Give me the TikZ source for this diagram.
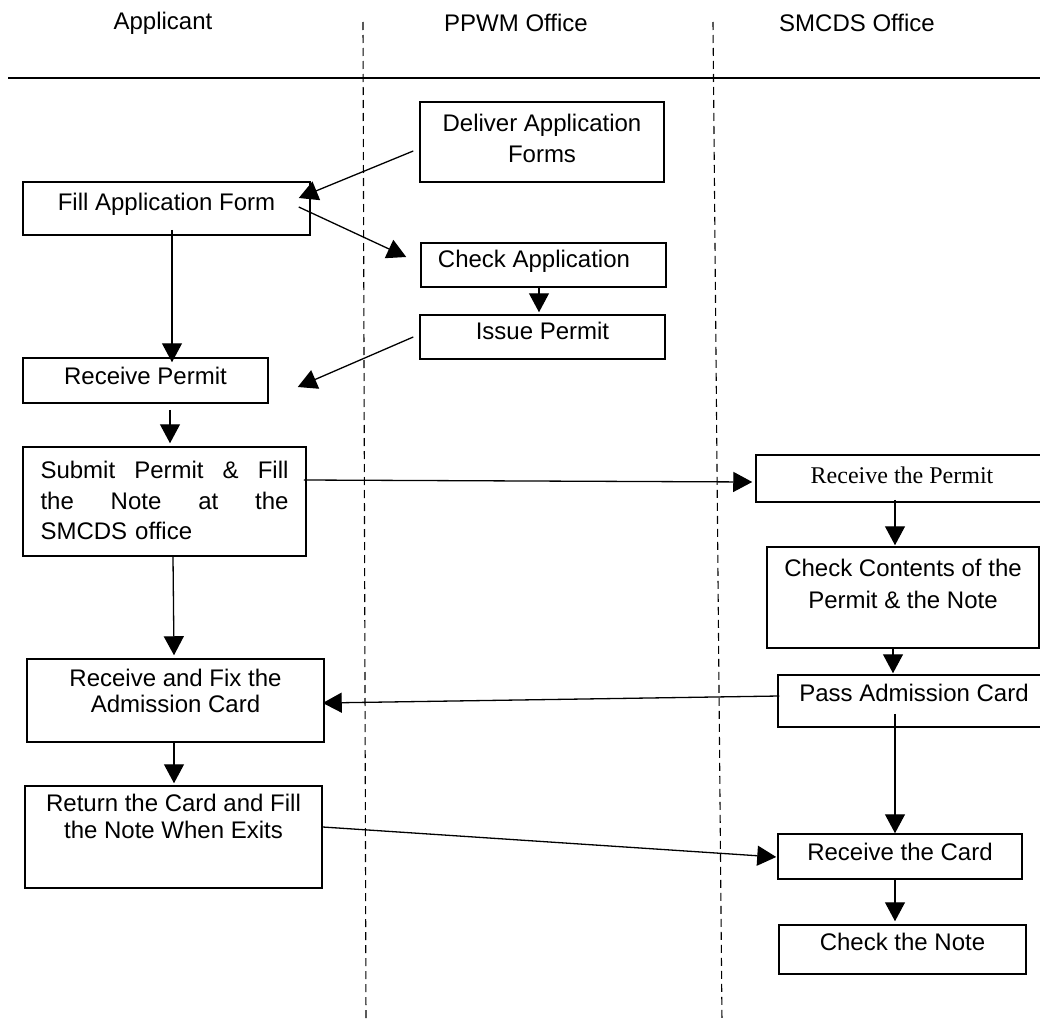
\documentclass[tikz,border=0pt]{standalone}
\usepackage{fontspec}
\setmainfont{Liberation Sans}
\newfontfamily\serifbox{Liberation Serif}
\usetikzlibrary{arrows.meta}

\begin{document}
\begin{tikzpicture}[x=0.5pt,y=-0.5pt,>={Triangle[length=9.5pt,width=10pt]},
  box/.style={draw,line width=0.75pt,inner sep=0pt,align=center,
    font=\fontsize{12}{15.5}\selectfont},
  flow/.style={->,line width=0.65pt},
  lane/.style={line width=0.55pt,dash pattern=on 4pt off 2.5pt}]
  \useasboundingbox (0,0) rectangle (1040,1028);
  \clip (0,0) rectangle (1040,1028);
  % lane heads
  \node[font=\fontsize{12}{14}\selectfont] (applicant) at (163,23) {Applicant};
  \node[font=\fontsize{12}{14}\selectfont] (ppwm) at (516,23) {PPWM Office};
  \node[font=\fontsize{12}{14}\selectfont] (smcds) at (857,23) {SMCDS Office};
  \draw[line width=0.6pt] (8,78) -- (1040,78);
  \draw[lane] (363,22) -- (366,1022);
  \draw[lane] (713,22) -- (722,1022);

  % PPWM office
  \node[box,minimum width=122pt,minimum height=40pt,text depth=3.25pt] (deliver) at (542,142) {Deliver Application\\Forms};
  \node[box,minimum width=122.5pt,minimum height=22pt,text height=9pt,text depth=6.4pt] (checkapp) at (543.5,265) {Check Application\hspace*{9.5pt}};
  \node[box,minimum width=122.5pt,minimum height=22pt,text height=9pt,text depth=6.4pt] (issue) at (542.5,337) {Issue Permit};

  % applicant
  \node[box,minimum width=143.5pt,minimum height=26.5pt,text height=9pt,text depth=6.9pt] (fillform) at (166.5,208.5) {Fill Application Form};
  \node[box,minimum width=122.5pt,minimum height=22.5pt,text height=9pt,text depth=4.9pt] (gotpermit) at (145.5,380.5) {Receive Permit};
  \node[box,minimum width=141.5pt,minimum height=54.5pt,text width=124pt,align=left,text depth=31.25pt,
    font=\fontsize{12}{15.25}\selectfont] (submit) at (164.5,501.5)
    {\noindent Submit\hfill Permit\hfill \&\hfill Fill\break the\hfill Note\hfill at\hfill the\break SMCDS office};
  \node[box,minimum width=148.5pt,minimum height=41.5pt,text depth=9.25pt,
    font=\fontsize{12}{13}\selectfont] (fixcard) at (175.5,700.5) {Receive and Fix the\\Admission Card};
  \node[box,minimum width=148.5pt,minimum height=51pt,text depth=20.25pt,
    font=\fontsize{12}{13.5}\selectfont] (retcard) at (173.5,837) {Return the Card and Fill\\the Note When Exits};

  % SMCDS office
  \node[box,minimum width=146pt,minimum height=23.5pt,text height=9pt,text depth=3.6pt,
    font=\serifbox\fontsize{12}{14}\selectfont] (getpermit) at (902,478.5) {Receive the Permit};
  \node[box,minimum width=136pt,minimum height=50.5pt,text depth=13.25pt,
    font=\fontsize{12}{16}\selectfont] (contents) at (903,597.5) {Check Contents of the\\Permit \& the Note};
  \node[box,minimum width=136pt,minimum height=26pt,text height=9pt,text depth=8.4pt] (passcard) at (914,701) {Pass Admission Card};
  \node[box,minimum width=122pt,minimum height=22.5pt,text height=9pt,text depth=4.9pt] (getcard) at (900,856.5) {Receive the Card};
  \node[box,minimum width=123.5pt,minimum height=24.5pt,text height=9pt,text depth=7.9pt] (checknote) at (902.5,949.5) {Check the Note};

  % flows
  \draw[flow] ([shift={(-6,9)}]deliver.west) -- ([shift={(-12,-10.5)}]fillform.east);
  \draw[flow] ([shift={(-12,-1.5)}]fillform.east) -- ([shift={(-14,-8)}]checkapp.west);
  \draw[flow] ([shift={(5.5,-6)}]fillform.south) -- ([shift={(26.5,5)}]gotpermit.north);
  \draw[flow] ([shift={(-4.5,-2)}]checkapp.south) -- ([shift={(-3.5,-2)}]issue.north);
  \draw[flow] ([shift={(-6,0)}]issue.west) -- ([shift={(29,6.5)}]gotpermit.east);
  \draw[flow] ([shift={(24.5,6)}]gotpermit.south) -- ([shift={(5.5,-3)}]submit.north);
  \draw[flow] ([shift={(-3,-21.5)}]submit.east) -- ([shift={(-3,3.5)}]getpermit.west);
  \draw[flow] ([shift={(8.5,0)}]submit.south) -- ([shift={(-1.5,-3)}]fixcard.north);
  \draw[flow] ([shift={(-7,-3)}]getpermit.south) -- ([shift={(-8,-1)}]contents.north);
  \draw[flow] ([shift={(-10,-1)}]contents.south) -- ([shift={(-21,-1)}]passcard.north);
  \draw[flow] ([shift={(2,-5)}]passcard.west) -- ([shift={(-2,2.5)}]fixcard.east);
  \draw[flow] ([shift={(-1.5,0)}]fixcard.south) -- ([shift={(0.5,-2)}]retcard.north);
  \draw[flow] ([shift={(0,-10)}]retcard.east) -- ([shift={(-1,0.5)}]getcard.west);
  \draw[flow] ([shift={(-19,-14)}]passcard.south) -- ([shift={(-5,0)}]getcard.north);
  \draw[flow] ([shift={(-5,0)}]getcard.south) -- ([shift={(-7.5,-3)}]checknote.north);
\end{tikzpicture}
\end{document}
